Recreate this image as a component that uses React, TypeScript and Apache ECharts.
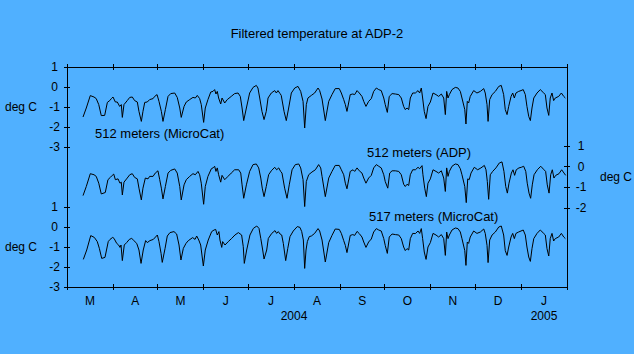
import React, { useEffect, useRef } from "react";
import * as echarts from "echarts";

// Day 0 = 1 March 2004
const MONTH_LABELS = ["M", "A", "M", "J", "J", "A", "S", "O", "N", "D", "J"];
const MONTH_START_DAYS = [0, 31, 61, 92, 122, 153, 184, 214, 245, 275, 306, 337];
const YEAR_LABELS = ["2004", "2005"];
const YEAR_START_DAYS = [0, 306, 337];

const TOP_TICKS = [1, 0, -1, -2, -3];
const MID_TICKS = [1, 0, -1, -2];
const BOT_TICKS = [1, 0, -1, -2, -3];

const TITLE = "Filtered temperature at ADP-2";
const LABEL_TOP = "512 meters (MicroCat)";
const LABEL_MID = "512 meters (ADP)";
const LABEL_BOT = "517 meters (MicroCat)";
const UNIT = "deg C";

// [day since 2004-03-01, temperature anomaly deg C]
const microCat512: [number, number][] = [
  [10.8,-1.5],[13.0,-1.05],[15.7,-0.43],[18.2,-0.5],[19.7,-0.58],[21.4,-0.88],[23.1,-1.43],[25.4,-1.42],[27.2,-0.77],[28.8,-0.68],
  [29.9,-0.58],[31.0,-0.5],[32.6,-0.75],[33.9,-0.75],[35.5,-0.97],[36.6,-0.88],[37.3,-1.52],[38.4,-0.88],[40.6,-0.68],[42.3,-0.52],
  [44.0,-0.5],[45.6,-0.68],[47.4,-0.75],[48.5,-1.22],[50.1,-1.72],[51.2,-1.22],[52.4,-0.77],[54.1,-0.75],[55.7,-0.63],[58.0,-0.58],
  [59.1,-0.47],[60.7,-0.38],[62.0,-0.72],[63.6,-1.22],[64.7,-1.72],[66.3,-1.13],[68.1,-0.47],[69.9,-0.33],[72.6,-0.3],[74.3,-0.52],
  [76.0,-1.05],[77.0,-1.52],[78.9,-0.97],[80.4,-0.75],[82.7,-0.63],[84.9,-0.52],[86.5,-0.55],[87.8,-0.42],[89.4,-0.58],[90.5,-0.88],
  [92.1,-1.77],[93.2,-1.05],[95.0,-0.63],[96.9,-0.25],[98.4,-0.22],[99.5,-0.13],[100.4,-0.35],[101.3,-0.22],[102.2,-0.55],[103.6,-0.85],
  [104.5,-0.55],[106.3,-0.8],[108.0,-0.63],[110.7,-0.47],[113.0,-0.33],[115.3,-0.3],[116.8,-0.47],[118.0,-1.05],[119.1,-1.68],[120.9,-1.05],
  [123.1,-0.3],[125.4,-0.02],[127.6,0.08],[128.7,-0.05],[129.9,-0.55],[131.4,-1.22],[132.8,-1.63],[134.3,-1.22],[135.5,-0.55],[137.7,-0.3],
  [140.0,-0.18],[141.1,-0.3],[142.2,-0.18],[143.6,-0.33],[144.4,-0.42],[146.3,-1.22],[147.8,-1.68],[149.4,-1.05],[151.2,-0.3],[153.5,-0.05],
  [155.7,0.03],[157.5,-0.22],[159.1,-0.72],[160.2,-2.05],[161.3,-0.88],[162.4,-0.55],[164.7,-0.42],[166.9,-0.3],[169.2,-0.05],[170.3,-0.18],
  [171.9,-0.6],[174.1,-1.68],[176.4,-0.72],[178.6,-0.38],[180.8,-0.08],[183.5,-0.08],[184.9,-0.3],[186.5,-0.63],[187.6,-0.88],[188.7,-1.22],
  [190.9,-0.38],[192.6,-0.35],[193.9,-0.38],[195.5,-0.18],[197.0,-0.3],[198.8,-0.47],[200.0,-0.72],[201.5,-0.97],[203.3,-0.72],[205.1,-0.58],
  [206.7,-0.22],[208.5,-0.05],[210.1,-0.13],[211.8,-0.18],[213.5,-0.55],[214.5,-0.88],[215.9,-1.27],[217.2,-0.47],[219.1,-0.33],[221.3,-0.35],
  [223.6,-0.38],[225.3,-0.55],[226.9,-0.97],[228.0,-1.13],[229.2,-1.05],[230.3,-1.13],[231.4,-0.55],[233.0,-0.3],[234.8,-0.3],[236.6,-0.18],
  [237.7,-0.3],[238.8,-0.05],[239.7,-0.55],[240.8,-1.22],[242.0,-1.58],[243.3,-0.97],[244.9,-0.75],[246.7,-0.3],[248.7,-0.38],[250.5,-0.47],
  [252.3,-0.35],[253.9,-0.55],[255.0,-1.38],[255.9,-0.22],[256.8,-0.55],[257.7,-0.38],[259.5,-0.13],[261.7,-0.02],[263.5,-0.05],[265.1,-0.22],
  [266.2,-0.55],[268.1,-1.13],[268.9,-1.85],[269.8,-0.72],[270.7,-0.8],[271.8,-0.47],[274.1,-0.18],[276.3,-0.3],[278.6,-0.22],[280.9,-0.08],
  [281.9,-0.3],[283.1,-0.88],[283.8,-1.72],[284.9,-0.63],[286.5,-0.38],[288.7,-0.22],[291.0,0.03],[292.7,0.08],[294.3,-0.38],[295.4,-1.13],
  [296.6,-1.38],[297.7,-0.97],[299.3,-0.47],[300.4,-0.3],[301.5,-0.55],[302.6,-0.3],[304.4,-0.22],[306.0,-0.18],[307.5,-0.13],[308.9,-0.38],
  [310.0,-0.97],[311.2,-1.47],[312.3,-1.68],[313.4,-1.05],[314.6,-0.55],[316.8,-0.3],[319.0,-0.13],[321.3,-0.3],[322.4,-0.38],[323.5,-1.05],
  [324.7,-1.42],[325.7,-0.55],[326.9,-0.3],[328.0,-0.68],[329.1,-0.55],[331.4,-0.47],[333.2,-0.3],[334.8,-0.47],[335.9,-0.55],
];

const adp512: [number, number][] = [
  [10.8,-1.4],[13.0,-0.96],[15.7,-0.34],[18.2,-0.39],[19.7,-0.47],[21.4,-0.8],[23.1,-1.32],[25.8,-1.25],[27.6,-0.63],[29.2,-0.52],
  [30.5,-0.42],[31.5,-0.36],[32.6,-0.63],[34.4,-0.59],[35.7,-0.8],[36.6,-0.75],[37.3,-1.37],[38.4,-0.75],[40.6,-0.55],[42.3,-0.39],
  [44.0,-0.34],[45.6,-0.52],[47.4,-0.59],[48.5,-1.04],[50.1,-1.61],[51.2,-1.04],[52.8,-0.55],[54.6,-0.59],[55.7,-0.47],[58.0,-0.47],
  [59.5,-0.31],[61.3,-0.2],[62.5,-0.63],[63.6,-1.04],[64.7,-1.56],[66.3,-0.96],[68.1,-0.31],[69.9,-0.18],[72.6,-0.11],[74.3,-0.31],
  [76.0,-0.96],[77.0,-1.61],[78.9,-0.88],[80.4,-0.63],[82.7,-0.47],[84.9,-0.34],[86.5,-0.39],[88.3,-0.23],[89.4,-0.39],[90.5,-0.8],
  [92.1,-1.82],[93.2,-0.96],[95.0,-0.47],[97.3,-0.1],[98.4,-0.06],[99.5,0.02],[100.4,-0.23],[101.3,-0.06],[102.2,-0.39],[103.6,-0.75],
  [104.5,-0.42],[106.3,-0.63],[108.5,-0.47],[110.7,-0.31],[113.0,-0.15],[115.7,-0.15],[117.1,-0.31],[118.0,-0.88],[119.1,-1.53],[120.9,-0.88],
  [123.1,-0.23],[125.4,0.1],[127.6,0.13],[129.2,-0.06],[130.6,-0.55],[131.6,-1.04],[132.8,-1.45],[134.3,-0.96],[135.9,-0.39],[137.7,-0.2],
  [140.0,-0.03],[141.3,-0.15],[142.7,-0.06],[144.0,-0.23],[144.9,-0.31],[146.7,-1.04],[148.3,-1.53],[149.8,-0.88],[151.7,-0.15],[153.9,0.1],
  [156.2,0.13],[157.5,-0.06],[159.1,-0.63],[160.2,-1.93],[161.3,-0.72],[162.9,-0.39],[165.1,-0.26],[167.4,-0.15],[169.6,0.1],[171.0,-0.06],
  [171.9,-0.47],[174.1,-1.45],[176.4,-0.55],[178.6,-0.23],[180.8,0.06],[183.5,0.06],[184.9,-0.15],[186.5,-0.39],[187.6,-0.8],[188.7,-1.07],
  [190.9,-0.23],[192.8,-0.15],[193.9,-0.23],[195.5,-0.06],[197.0,-0.2],[198.8,-0.31],[200.0,-0.55],[201.5,-0.8],[203.3,-0.55],[205.1,-0.42],
  [206.7,-0.06],[208.5,0.1],[210.1,0.02],[211.8,-0.06],[213.5,-0.39],[214.5,-0.72],[216.2,-1.04],[217.5,-0.31],[219.1,-0.2],[221.3,-0.2],
  [223.6,-0.23],[225.3,-0.39],[226.9,-0.85],[228.0,-0.96],[229.2,-0.85],[230.3,-0.91],[231.4,-0.39],[233.0,-0.15],[234.8,-0.15],[236.6,-0.03],
  [237.7,-0.1],[239.3,0.05],[239.9,-0.39],[241.1,-1.04],[242.2,-1.45],[243.3,-0.8],[244.9,-0.59],[246.7,-0.15],[248.7,-0.23],[250.5,-0.31],
  [252.3,-0.2],[253.9,-0.55],[255.0,-1.2],[255.9,-0.06],[256.8,-0.47],[257.7,-0.23],[259.5,0.02],[261.7,0.13],[263.5,0.1],[265.1,-0.1],
  [266.2,-0.39],[268.1,-0.96],[269.1,-1.74],[270.1,-0.59],[271.1,-0.63],[272.3,-0.31],[274.5,-0.03],[276.8,-0.15],[279.0,-0.06],[281.3,0.06],
  [282.4,-0.15],[283.3,-0.72],[284.2,-1.58],[285.3,-0.39],[286.9,-0.23],[289.1,-0.06],[291.4,0.18],[293.2,0.23],[294.5,-0.23],[295.7,-0.96],
  [296.8,-1.28],[297.9,-0.8],[299.5,-0.31],[300.6,-0.15],[301.7,-0.42],[302.8,-0.15],[304.6,-0.06],[306.2,-0.03],[307.8,0.02],[309.2,-0.23],
  [310.2,-0.8],[311.4,-1.28],[312.5,-1.53],[313.6,-0.88],[314.8,-0.39],[317.0,-0.15],[319.3,0.02],[321.5,-0.15],[322.6,-0.23],[323.7,-0.88],
  [324.9,-1.28],[326.0,-0.39],[327.1,-0.15],[328.2,-0.55],[329.4,-0.42],[331.6,-0.34],[333.4,-0.15],[335.0,-0.31],[336.1,-0.42],
];

const microCat517: [number, number][] = [
  [11.0,-1.62],[13.3,-1.15],[16.0,-0.43],[18.4,-0.52],[20.4,-0.73],[21.8,-1.07],[23.4,-1.57],[25.6,-1.52],[27.8,-0.73],[29.0,-0.62],
  [30.8,-0.52],[31.7,-0.57],[33.5,-0.82],[34.8,-0.9],[35.7,-1.02],[36.4,-0.9],[37.3,-1.68],[38.6,-0.9],[40.2,-0.78],[42.0,-0.62],
  [43.6,-0.57],[44.7,-0.65],[47.0,-0.82],[48.5,-1.15],[49.9,-1.82],[51.4,-1.15],[53.0,-0.68],[54.1,-0.78],[55.9,-0.68],[58.2,-0.62],
  [60.9,-0.4],[62.0,-0.73],[63.4,-1.32],[64.2,-1.77],[66.1,-1.07],[67.6,-0.45],[69.4,-0.28],[72.1,-0.23],[73.9,-0.35],[75.5,-0.9],
  [76.8,-1.65],[78.4,-1.07],[80.2,-0.82],[81.8,-0.68],[84.7,-0.53],[86.3,-0.62],[87.4,-0.45],[88.8,-0.65],[90.1,-0.9],[91.9,-1.95],
  [93.2,-1.15],[95.2,-0.65],[97.5,-0.23],[99.1,-0.15],[100.2,-0.12],[101.3,-0.4],[102.4,-0.23],[103.1,-0.65],[104.3,-1.02],[104.9,-0.73],
  [106.5,-0.9],[108.7,-0.73],[111.0,-0.57],[113.2,-0.4],[115.5,-0.28],[117.7,-0.4],[118.8,-0.98],[119.5,-1.82],[121.1,-1.15],[123.3,-0.4],
  [125.6,-0.07],[127.9,0.05],[129.4,-0.07],[130.6,-0.57],[131.9,-1.15],[132.8,-1.6],[134.6,-1.15],[135.7,-0.57],[138.0,-0.32],[140.2,-0.18],
  [141.3,-0.32],[142.4,-0.23],[143.6,-0.35],[144.7,-0.4],[145.8,-0.82],[147.4,-1.68],[148.8,-1.07],[150.3,-0.48],[152.5,-0.2],[155.2,0.02],
  [157.0,-0.02],[158.2,-0.23],[159.3,-0.65],[160.2,-2.07],[161.1,-1.15],[162.0,-0.73],[163.3,-0.48],[164.7,-0.45],[166.9,-0.32],[169.2,-0.08],
  [170.3,-0.2],[171.9,-0.65],[174.1,-1.75],[176.4,-0.78],[178.6,-0.42],[180.8,-0.1],[183.5,-0.12],[184.9,-0.32],[186.5,-0.68],[187.6,-0.92],
  [188.7,-1.28],[190.9,-0.42],[192.6,-0.38],[193.9,-0.42],[195.5,-0.22],[197.0,-0.33],[198.8,-0.5],[200.0,-0.75],[201.5,-1.02],[203.3,-0.75],
  [205.1,-0.6],[206.7,-0.25],[208.5,-0.08],[210.1,-0.15],[211.8,-0.2],[213.5,-0.58],[214.5,-0.92],[215.9,-1.32],[217.2,-0.5],[219.1,-0.35],
  [221.3,-0.38],[223.6,-0.4],[225.3,-0.58],[226.9,-1.0],[228.0,-1.18],[229.2,-1.08],[230.3,-1.15],[231.4,-0.58],[233.0,-0.32],[234.8,-0.33],
  [236.6,-0.2],[237.7,-0.32],[238.8,-0.08],[239.7,-0.58],[240.8,-1.25],[242.0,-1.62],[243.3,-1.0],[244.9,-0.78],[246.7,-0.32],[248.7,-0.4],
  [250.5,-0.5],[252.3,-0.38],[253.9,-0.58],[255.0,-1.42],[255.9,-0.25],[256.8,-0.58],[257.7,-0.4],[259.5,-0.15],[261.7,-0.05],[263.5,-0.08],
  [265.1,-0.25],[266.2,-0.58],[268.1,-1.18],[268.9,-1.92],[269.8,-0.75],[270.7,-0.82],[271.8,-0.5],[274.1,-0.2],[276.3,-0.32],[278.6,-0.25],
  [280.9,-0.1],[281.9,-0.32],[283.1,-0.92],[283.8,-1.78],[284.9,-0.65],[286.5,-0.4],[288.7,-0.25],[291.0,0.0],[292.7,0.05],[294.3,-0.4],
  [295.4,-1.18],[296.6,-1.42],[297.7,-1.0],[299.3,-0.5],[300.4,-0.32],[301.5,-0.58],[302.6,-0.32],[304.4,-0.25],[306.0,-0.2],[307.5,-0.15],
  [308.9,-0.4],[310.0,-1.0],[311.2,-1.5],[312.3,-1.72],[313.4,-1.08],[314.6,-0.58],[316.8,-0.32],[319.0,-0.15],[321.3,-0.32],[322.4,-0.4],
  [323.5,-1.08],[324.7,-1.45],[325.7,-0.58],[326.9,-0.32],[328.0,-0.7],[329.1,-0.58],[331.4,-0.5],[333.2,-0.32],[334.8,-0.5],[335.9,-0.58],
];

const BG = "#50b0ff";
const FONT = "'Liberation Sans', Arial, sans-serif";

const GRID_LEFT = 67;
const GRID_WIDTH = 500;
const FRAME_TOP = 67;
const FRAME_HEIGHT = 220;

const monthMid = MONTH_START_DAYS.slice(0, -1).map((d, i) => (d + MONTH_START_DAYS[i + 1]) / 2);
const yearMid = YEAR_START_DAYS.slice(0, -1).map((d, i) => (d + YEAR_START_DAYS[i + 1]) / 2);
const X_MAX = MONTH_START_DAYS[MONTH_START_DAYS.length - 1];

function App() {
  const ref = useRef<HTMLDivElement>(null);
  useEffect(() => {
    if (!ref.current) return;
    const chart = echarts.init(ref.current, undefined, { renderer: "svg" });
    const black = "#000";
    const line = { show: true, onZero: false, lineStyle: { color: black, width: 1 } };
    const noLine = { show: false, onZero: false };
    const noSplit = { show: false };

    const xFrame = (position: "top" | "bottom", inside: boolean, extra: any = {}) => ({
      type: "value",
      gridIndex: 0,
      position,
      min: 0,
      max: X_MAX,
      axisLine: line,
      axisTick: { show: true, inside, length: 3, customValues: MONTH_START_DAYS, lineStyle: { color: black } },
      axisLabel: { show: false },
      splitLine: noSplit,
      ...extra,
    });
    const xHidden = (gridIndex: number) => ({ type: "value", gridIndex, min: 0, max: X_MAX, show: false });

    const yTicks = (gridIndex: number, position: "left" | "right", min: number, max: number, ticks: number[], inside: boolean) => ({
      type: "value",
      gridIndex,
      position,
      min,
      max,
      interval: 1,
      axisLine: noLine,
      axisTick: { show: true, inside, length: 3, customValues: ticks, lineStyle: { color: black } },
      axisLabel: inside
        ? { show: false }
        : {
            show: true,
            customValues: ticks,
            align: "center",
            margin: position === "left" ? 12.5 : 14,
            color: black,
            fontSize: 12,
            fontFamily: FONT,
            showMinLabel: true,
            showMaxLabel: true,
          },
      splitLine: noSplit,
    });

    const lineSeries = (data: [number, number][], idx: number, yIdx: number) => ({
      type: "line",
      xAxisIndex: idx,
      yAxisIndex: yIdx,
      data,
      symbol: "none",
      showSymbol: false,
      clip: false,
      lineStyle: { color: black, width: 1 },
    });

    const text = (t: string, x: number, y: number, size: number, align = "left") => ({
      type: "text",
      x,
      y,
      style: { text: t, fill: black, font: `${size}px ${FONT}`, textAlign: align, textVerticalAlign: "middle" },
    });

    chart.setOption({
      animation: false,
      backgroundColor: BG,
      grid: [
        { left: GRID_LEFT, width: GRID_WIDTH, top: FRAME_TOP, height: FRAME_HEIGHT },
        { left: GRID_LEFT, width: GRID_WIDTH, top: 67, height: 80 },
        { left: GRID_LEFT, width: GRID_WIDTH, top: 146, height: 62 },
        { left: GRID_LEFT, width: GRID_WIDTH, top: 207, height: 80 },
      ],
      xAxis: [
        xFrame("bottom", false, {
          axisLabel: {
            show: true,
            customValues: monthMid,
            margin: 8,
            color: black,
            fontSize: 12,
            fontFamily: FONT,
            formatter: (v: number) => {
              const i = monthMid.findIndex((m) => Math.abs(m - v) < 0.01);
              return i >= 0 ? MONTH_LABELS[i] : "";
            },
          },
        }),
        xFrame("bottom", true),
        xFrame("top", false),
        xFrame("top", true),
        {
          type: "value",
          gridIndex: 0,
          position: "bottom",
          min: 0,
          max: X_MAX,
          axisLine: noLine,
          axisTick: { show: false },
          splitLine: noSplit,
          axisLabel: {
            show: true,
            customValues: yearMid,
            margin: 23,
            color: black,
            fontSize: 12,
            fontFamily: FONT,
            formatter: (v: number) => {
              const i = yearMid.findIndex((m) => Math.abs(m - v) < 0.01);
              return i >= 0 ? YEAR_LABELS[i] : "";
            },
          },
        },
        xHidden(1),
        xHidden(2),
        xHidden(3),
      ],
      yAxis: [
        { type: "value", gridIndex: 0, position: "left", min: 0, max: 1, axisLine: line, axisTick: { show: false }, axisLabel: { show: false }, splitLine: noSplit },
        { type: "value", gridIndex: 0, position: "right", min: 0, max: 1, axisLine: line, axisTick: { show: false }, axisLabel: { show: false }, splitLine: noSplit },
        yTicks(1, "left", -3, 1, TOP_TICKS, false),
        yTicks(1, "left", -3, 1, TOP_TICKS, true),
        yTicks(2, "right", -2, 1, MID_TICKS, false),
        yTicks(2, "right", -2, 1, MID_TICKS, true),
        yTicks(3, "left", -3, 1, BOT_TICKS, false),
        yTicks(3, "left", -3, 1, BOT_TICKS, true),
      ],
      series: [
        lineSeries(microCat512, 5, 2),
        lineSeries(adp512, 6, 4),
        lineSeries(microCat517, 7, 6),
      ],
      graphic: [
        text(TITLE, 317, 33, 13, "center"),
        text(UNIT, 5, 107, 12),
        text(UNIT, 5, 247, 12),
        text(UNIT, 600, 177, 12),
        text(LABEL_TOP, 95, 133, 13),
        text(LABEL_MID, 367, 152, 13),
        text(LABEL_BOT, 369, 216, 13),
      ],
    });
    return () => chart.dispose();
  }, []);
  return (
    <div
      ref={ref}
      style={{ position: "absolute", left: 0, top: 0, width: 634, height: 354, background: BG }}
    />
  );
}

export default App;
